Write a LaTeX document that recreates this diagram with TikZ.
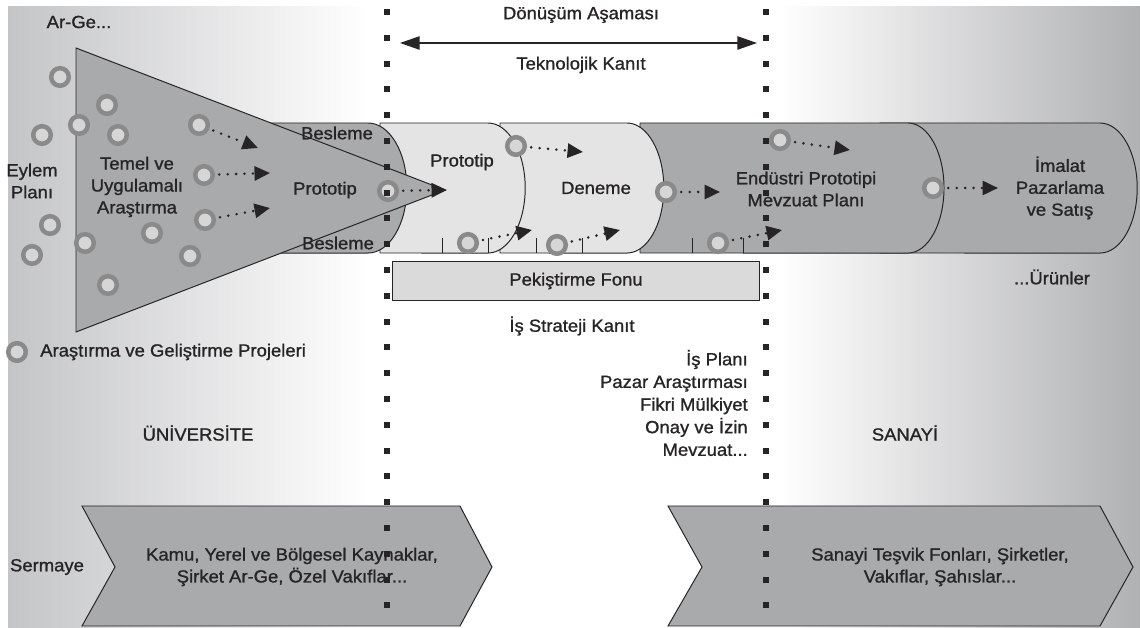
\documentclass[tikz,border=0pt]{standalone}
\usepackage{fontspec}
\setmainfont{Liberation Sans}[FakeStretch=1.05, FakeBold=1.1]
\usetikzlibrary{arrows.meta}
\definecolor{bgleft}{RGB}{196,197,199}
\definecolor{bgright}{RGB}{176,177,179}
\definecolor{darkfill}{RGB}{169,170,172}
\definecolor{lightfill}{RGB}{228,228,228}
\definecolor{fundfill}{RGB}{218,218,218}
\definecolor{ringgray}{RGB}{138,138,138}
\definecolor{ringfill}{RGB}{214,214,214}
\definecolor{inkgray}{RGB}{38,36,37}

\begin{document}
\begin{tikzpicture}[x=0.025cm, y=-0.025cm,
    every node/.style={font=\fontsize{12.5}{15.6}\selectfont, text=inkgray, align=center, inner sep=0pt},
    outline/.style={draw=inkgray, line width=0.7pt},
    proj/.style={circle, draw=ringgray, fill=ringfill, line width=3.2pt, minimum size=0.44cm, inner sep=0pt},
    lead/.style={inkgray, line width=2pt, line cap=round, dash pattern=on 0pt off 6pt,
      shorten <=3pt, -{Triangle[length=11pt, width=10pt]}},
    span/.style={inkgray, line width=1pt,
      {Triangle[length=14pt, width=9.5pt]}-{Triangle[length=14pt, width=9.5pt]}}]
    \useasboundingbox (0,0) rectangle (1140,628);

    % background
    \fill[white] (0,0) rectangle (1140,628);
    \shade[left color=bgleft, right color=white] (8,7) rectangle (370,628);
    \shade[left color=white, right color=bgright] (780,7) rectangle (1140,628);

    % funding chevrons
    \path[outline, fill=darkfill] (82,506) -- (460,506) -- (492,567) -- (460,626) -- (82,626) -- (115,567) -- cycle;
    \path[outline, fill=darkfill] (668,506) -- (1100,506) -- (1133,567) -- (1100,626) -- (668,626) -- (702,567) -- cycle;

    % pipeline, right to left
    \path[outline, fill=darkfill] (880,123) -- (1100,123) arc[start angle=90, end angle=-90, x radius=0.93cm, y radius=1.625cm] -- (880,253) -- cycle;
    \path[outline, fill=darkfill] (640,123) -- (908,123) arc[start angle=90, end angle=-90, x radius=0.9cm, y radius=1.625cm] -- (640,253) -- cycle;
    \path[outline, fill=lightfill] (500,123) -- (627,123) arc[start angle=90, end angle=-90, x radius=0.92cm, y radius=1.625cm] -- (500,253) -- cycle;
    \path[outline, fill=lightfill] (380,123) -- (488,123) arc[start angle=90, end angle=-90, x radius=0.93cm, y radius=1.625cm] -- (380,253) -- cycle;
    \path[outline, fill=darkfill] (200,123) -- (368,123) arc[start angle=90, end angle=-90, x radius=0.97cm, y radius=1.625cm] -- (200,253) -- cycle;
    \foreach \x in {442,488,536,582,692,743}
      \draw[inkgray, line width=0.7pt] (\x,238) -- (\x,253);

    % funnel
    \path[outline, fill=darkfill] (76,48) -- (445,190) -- (76,332) -- cycle;

    \node[outline, fill=fundfill, minimum width=9.175cm, minimum height=0.95cm] (fund) at (576,281) {Pekiştirme Fonu};

    % projects
    \node[proj] (r1) at (60,77) {};
    \node[proj] (r2) at (107,105) {};
    \node[proj] (r3) at (79,125) {};
    \node[proj] (r4) at (42,135) {};
    \node[proj] (r5) at (118,135) {};
    \node[proj] (r6) at (199,125) {};
    \node[proj] (r7) at (204,175) {};
    \node[proj] (r8) at (205,220) {};
    \node[proj] (r9) at (50,225) {};
    \node[proj] (r10) at (32,255) {};
    \node[proj] (r11) at (85,243) {};
    \node[proj] (r12) at (152,233) {};
    \node[proj] (r13) at (190,256) {};
    \node[proj] (r14) at (108,285) {};

    \node[proj] (b0) at (388,191) {};
    \node[proj] (b1) at (516,146) {};
    \node[proj] (b2) at (468,243) {};
    \node[proj] (b3) at (557,245) {};
    \node[proj] (b4) at (666,192) {};
    \node[proj] (b5) at (718,243) {};
    \node[proj] (b6) at (780,140) {};
    \node[proj] (b7) at (933,188) {};

    \coordinate (t6) at (258,148);
    \coordinate (t7) at (270,173);
    \coordinate (t8) at (270,208);
    \coordinate (u0) at (447,190);
    \coordinate (u1) at (583,152);
    \coordinate (u2) at (532,230);
    \coordinate (u3) at (620,230);
    \coordinate (u4) at (720,192);
    \coordinate (u5) at (782,230);
    \coordinate (u6) at (850,150);
    \coordinate (u7) at (998,188);

    \draw[lead] (r6) -- (t6);
    \draw[lead] (r7) -- (t7);
    \draw[lead] (r8) -- (t8);
    \draw[lead] (b0) -- (u0);
    \draw[lead] (b1) -- (u1);
    \draw[lead] (b2) -- (u2);
    \draw[lead] (b3) -- (u3);
    \draw[lead] (b4) -- (u4);
    \draw[lead] (b5) -- (u5);
    \draw[lead] (b6) -- (u6);
    \draw[lead] (b7) -- (u7);

    % labels
    \node (arge) at (79,22) {Ar-Ge...};
    \node (eylem) at (32,181) {Eylem\\Planı};
    \node (temel) at (137,187) {Temel ve\\Uygulamalı\\Araştırma};
    \node (proto0) at (325,190) {Prototip};
    \node (besU) at (337,133) {Besleme};
    \node (besD) at (338,243) {Besleme};
    \node (proto1) at (462,162) {Prototip};
    \node (deneme) at (596,188) {Deneme};
    \node (endus) at (806,189) {Endüstri Prototipi\\Mevzuat Planı};
    \node (imalat) at (1060,188) {İmalat\\Pazarlama\\ve Satış};
    \node (urun) at (1052,277) {...Ürünler};

    \node (donus) at (581,15) {Dönüşüm Aşaması};
    \node (tekno) at (581,65) {Teknolojik Kanıt};
    \coordinate (sl) at (400,43);
    \coordinate (sr) at (757,43);
    \draw[span] (sl) -- (sr);

    \node (strat) at (572,326) {İş Strateji Kanıt};
    \node[align=right, anchor=east, font=\fontsize{12.5}{16.1}\selectfont] (plan) at (748,403)
      {İş Planı\\Pazar Araştırması\\Fikri Mülkiyet\\Onay ve İzin\\Mevzuat...};

    \node[proj] (key) at (17,352) {};
    \node[anchor=west] (keytxt) at (40,352) {Araştırma ve Geliştirme Projeleri};

    \node (univ) at (198,433) {ÜNİVERSİTE};
    \node (sanayi) at (905,433) {SANAYİ};

    \node (sermaye) at (47,567) {Sermaye};
    \node (kamu) at (292,567) {Kamu, Yerel ve Bölgesel Kaynaklar,\\Şirket Ar-Ge, Özel Vakıflar...};
    \node (tesvik) at (940,567) {Sanayi Teşvik Fonları, Şirketler,\\Vakıflar, Şahıslar...};

    % phase borders
    \foreach \k in {0,...,23} {
      \fill[inkgray] (384,{9+25.8*\k}) rectangle ++(6,6);
      \fill[inkgray] (763,{9+25.8*\k}) rectangle ++(6,6);
    }
\end{tikzpicture}
\end{document}
